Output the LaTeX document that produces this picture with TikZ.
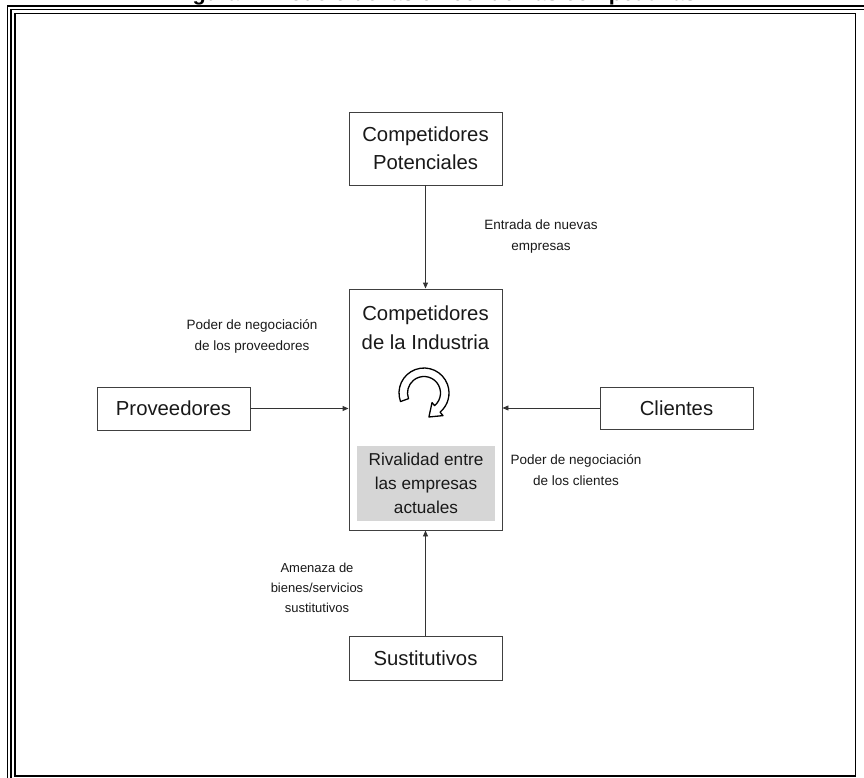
\documentclass[tikz,border=0pt]{standalone}
\usepackage{fontspec}
\setmainfont{Liberation Sans}
\usetikzlibrary{arrows.meta}
\begin{document}
\begin{tikzpicture}[x=1pt,y=-1pt,
  box/.style={draw=black!75, line width=0.9pt, fill=white, inner sep=0pt,
    minimum width=153pt, align=center, text=black!90,
    font=\fontsize{20.3}{28}\selectfont},
  lbl/.style={align=center, text=black!90, inner sep=0pt,
    font=\fontsize{13.5}{21}\selectfont},
  force/.style={draw=black!80, line width=0.9pt,
    -{Triangle[length=6pt,width=5pt]}},
  frameline/.style={line width=1.3pt}]
\useasboundingbox (0,0) rectangle (864,778);
\clip (0,0) rectangle (864,778);

% caption, cut by the page edge
\node[anchor=base, inner sep=0pt, font=\fontsize{21.6}{24}\bfseries] (cap)
  at (435,0.5) {Figura 1. Modelo de las cinco fuerzas competitivas};

% page frame
\draw[frameline] (7.5,800) |- (880,6);
\draw[frameline] (11,800) |- (880,9.5);
\draw[frameline] (15,13.5) rectangle (855.5,776);

% the five forces
\node[box, minimum height=73pt] (pot) at (425.5,148.5) {Competidores\\Potenciales};
\node[box, minimum height=241pt] (ind) at (425.5,409.5) {};
\node[align=center, inner sep=0pt, text=black!90,
  font=\fontsize{20.3}{29}\selectfont] (indtxt) at (425.5,328) {Competidores\\de la Industria};
\node[fill=black!16, minimum width=138pt, minimum height=75pt, inner sep=0pt,
  align=center, text=black!90, font=\fontsize{17.2}{24}\selectfont] (riv)
  at (426,483.5) {Rivalidad entre\\las empresas\\actuales};
\node[box, minimum height=43pt] (prov) at (173.5,408.5) {Proveedores};
\node[box, minimum height=42pt] (cli) at (676.5,408) {Clientes};
\node[box, minimum height=44pt] (sus) at (425.5,658) {Sustitutivos};

% rivalry cycle symbol
\begin{scope}[shift={(424,393)}]
  \draw[fill=white, line width=1.3pt, line join=round]
    (200:25pt) arc[start angle=200, end angle=-50, radius=25pt]
    -- (-50:29.5pt) -- (4.9pt,-24pt) -- (-50:12.5pt) -- (-50:16.5pt)
    arc[start angle=-50, end angle=200, radius=16.5pt] -- cycle;
\end{scope}

% connectors
\draw[force] (pot) -- (ind);
\draw[force] (sus) -- (ind);
\draw[force] (prov.east) -- (prov.east -| ind.west);
\draw[force] (cli.west) -- (cli.west -| ind.east);

% force labels
\node[lbl] (lent) at (541,237) {Entrada de nuevas\\empresas};
\node[lbl] (lprov) at (252,336) {Poder de negociación\\de los proveedores};
\node[lbl] (lcli) at (576,470) {Poder de negociación\\de los clientes};
\node[lbl, font=\fontsize{13}{20}\selectfont] (lsus) at (317,588)
  {Amenaza de\\bienes/servicios\\sustitutivos};
\end{tikzpicture}
\end{document}
